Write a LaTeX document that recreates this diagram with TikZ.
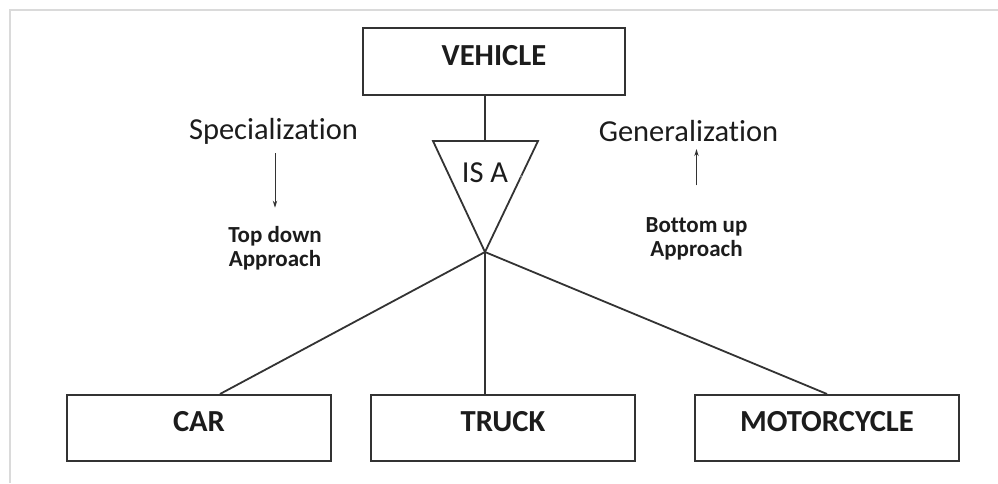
\documentclass[tikz,border=0pt]{standalone}
\usepackage{fontspec}
\setmainfont[Ligatures=NoCommon]{Carlito}
\usetikzlibrary{arrows.meta}
\definecolor{lineg}{HTML}{333333}
\definecolor{frameg}{HTML}{DADADA}
\definecolor{txt}{HTML}{1C1C1C}
\tikzset{
entbox/.style={draw=lineg,line width=1pt,minimum width=132pt,minimum height=33pt,inner sep=0pt,
  font=\fontsize{15.3}{18}\selectfont\bfseries,text=txt,text height=9.85pt,text depth=6pt},
rel/.style={draw=lineg,line width=0.9pt},
lbl/.style={inner sep=0pt,text=txt,font=\fontsize{15.25}{18}\selectfont},
approach/.style={inner sep=0pt,text=txt,align=center,font=\fontsize{11.5}{12}\selectfont\bfseries},
arr/.style={draw=lineg,line width=0.5pt,-{Stealth[length=3.5pt,width=2.2pt]}}
}
\begin{document}
\begin{tikzpicture}[x=0.5pt,y=-0.5pt]
\useasboundingbox (0,0) rectangle (998,483);
\draw[frameg,line width=1pt](9.5,483)--(9.5,9.5)--(998,9.5);
\node[entbox,minimum width=131pt,minimum height=33.5pt](vehicle)at(494,61.5){VEHICLE};
\node[entbox](car)at(199,428){CAR};
\node[entbox](truck)at(503,428){TRUCK};
\node[entbox](moto)at(827,428){MOTORCYCLE};
\coordinate(isaleft)at(433,141);\coordinate(isaright)at(538,141);
\coordinate(isatop)at(485,141);\coordinate(isaapex)at(485,252);
\draw[rel](isaleft)--(isaright)--(isaapex)--cycle;
\node[lbl](isa)at(485,172.5){IS A};
\node[inner sep=0pt,text=gray,font=\small](isamark)at(521,178){,};
\draw[rel](vehicle.south -| isatop)--(isatop);
\draw[rel](isaapex)--([xshift=10.5pt]car.north);
\draw[rel](isaapex)--(isaapex |- truck.north);
\draw[rel](isaapex)--(moto.north);
\node[lbl](spec)at(273.5,131){Specialization};
\node[lbl](gen)at(688.5,131){Generalization};
\node[approach](topdown)at(275,248){Top down\\Approach};
\node[approach](bottomup)at(696.5,239){Bottom up\\Approach};
\draw[arr,shorten <=4.5pt,shorten >=9pt](topdown.north |- spec.south)--(topdown.north);
\draw[arr,shorten <=16pt,shorten >=3.5pt](bottomup.north)--(bottomup.north |- gen.south);
\end{tikzpicture}
\end{document}
